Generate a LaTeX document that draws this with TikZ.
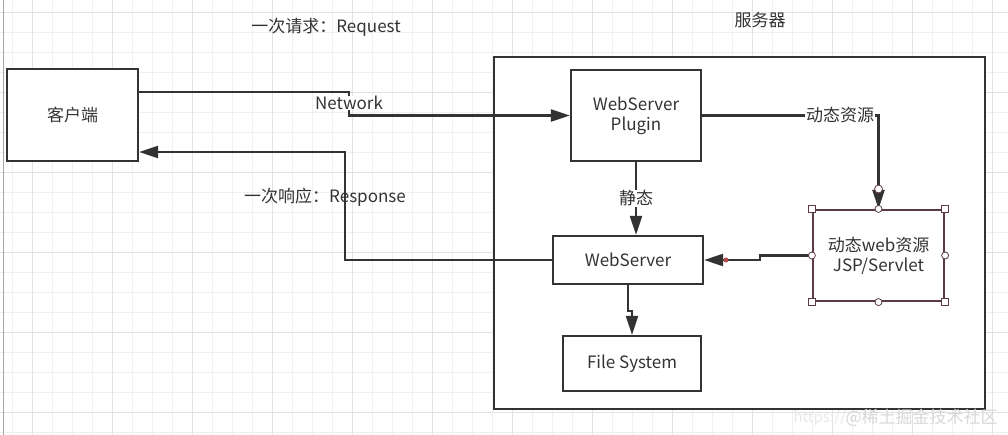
\documentclass[tikz,border=0pt]{standalone}
\usepackage{fontspec}
\setmainfont{Noto Sans CJK SC}
\usetikzlibrary{arrows.meta,calc}
\definecolor{ink}{HTML}{333333}
\definecolor{selb}{HTML}{5C3A44}
\definecolor{minorg}{HTML}{F0F0F0}
\definecolor{majorg}{HTML}{E2E2E2}
\definecolor{wm}{HTML}{D8D8D8}
\tikzset{
  box/.style={draw=ink, line width=2.2pt, fill=white, inner sep=0pt, align=center, text=ink, font=\fontsize{17}{20}\selectfont},
  conn/.style={draw=ink, line width=2.2pt, -{Triangle[length=19pt,width=12pt]}},
  lbl/.style={text=ink, font=\fontsize{17}{20}\selectfont, inner sep=1pt},
  handle/.style={draw=selb, line width=0.8pt, fill=white},
}
\begin{document}
\begin{tikzpicture}[x=1pt,y=-1pt]
\useasboundingbox (0,0) rectangle (1008,435);
\fill[white] (0,0) rectangle (1008,435);
% grid
\foreach \gx in {12,32,...,1008} \draw[minorg, line width=0.8pt] (\gx,0) -- (\gx,435);
\foreach \gy in {12,32,...,435} \draw[minorg, line width=0.8pt] (0,\gy) -- (1008,\gy);
\foreach \gx in {32,112,...,1008} \draw[majorg, line width=0.8pt] (\gx,0) -- (\gx,435);
\foreach \gy in {12,92,...,435} \draw[majorg, line width=0.8pt] (0,\gy) -- (1008,\gy);
\draw[gray!70, line width=0.8pt] (3,0) -- (3,435);

% boxes
\node[box, minimum width=491pt, minimum height=352pt] (server) at (739.5,233) {};
\node[box, minimum width=131pt, minimum height=92pt] (client) at (72.5,115) {客户端};
\node[box, minimum width=130pt, minimum height=91pt] (plugin) at (636,115.5) {WebServer\\Plugin};
\node[box, minimum width=150pt, minimum height=48pt] (ws) at (628,260) {WebServer};
\node[box, minimum width=138pt, minimum height=55pt] (fs) at (632,363.5) {File System};
\node[box, draw=selb, minimum width=131pt, minimum height=91pt] (dyn) at (878.5,255.5) {动态web资源\\JSP/Servlet};

% labels
\node[lbl] (reqlbl) at (326,27) {一次请求：Request};
\node[lbl] (srvlbl) at (760,20) {服务器};
\node[lbl] (reslbl) at (325,197) {一次响应：Response};

% connectors
\coordinate (reqstart) at (client.east |- 0,92);
\coordinate (reqbend) at (349,92);
\draw[conn] (reqstart) -- (reqbend) |- (plugin.west);
\node[lbl, fill=white, inner ysep=0.5pt] (netlbl) at (349,103) {Network};

\coordinate (resbend) at (345,260);
\coordinate (resend) at (client.east |- 0,152);
\draw[conn] (ws.west) -- (resbend) |- (resend);

\draw[conn] (plugin.south) -- (plugin.south |- ws.north) node[lbl, midway, fill=white] (statlbl) {静态};

\draw[conn] (plugin.east) -| (dyn.north);
\node[lbl, fill=white] (dynlbl) at (840,115) {动态资源};

\coordinate (dbend1) at (760,255.5);
\coordinate (dbend2) at (760,260);
\draw[conn] (dyn.west) -- (dbend1) -- (dbend2) -- (ws.east);

\coordinate (fsbend) at ($(ws.south)+(0,26)$);
\draw[conn] (ws.south) -- (fsbend) -| (fs.north);

% selection handles
\foreach \c in {north west, north east, south west, south east}
  \draw[handle] ($(dyn.\c)+(-3.5,-3.5)$) rectangle ++(7,7);
\foreach \c in {north, south, east, west}
  \draw[handle] (dyn.\c) circle (3.5pt);
\draw[handle] (878.5,189) circle (4pt);
\fill[red!60!black!70!white] (726,260) circle (2.5pt);

% watermark
\node[text=wm!60!white, font=\fontsize{15}{18}\selectfont, anchor=west] (wm1) at (790,418) {https://};
\node[text=wm, font=\fontsize{17}{20}\selectfont, anchor=west] (wm2) at (842,418) {@稀土掘金技术社区};
\end{tikzpicture}
\end{document}
